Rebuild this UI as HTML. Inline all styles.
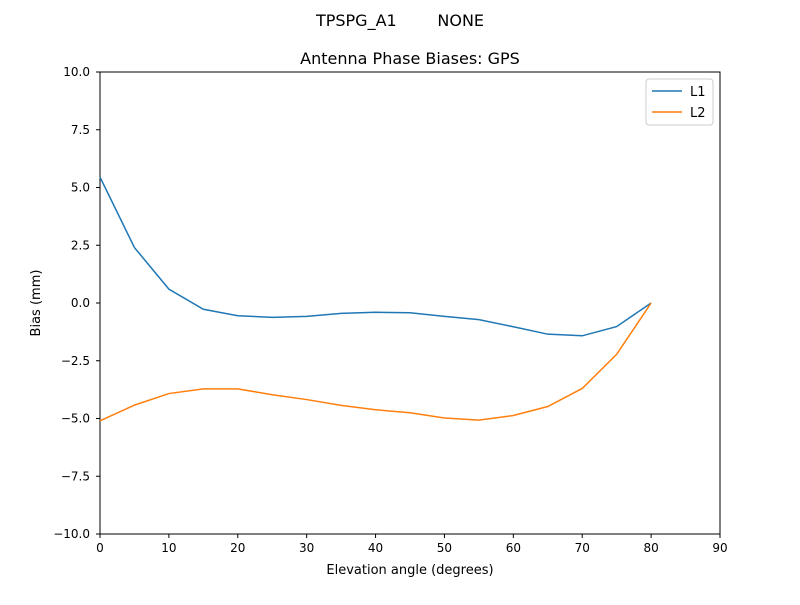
<!DOCTYPE html>
<html><head><meta charset="utf-8"><style>
body{margin:0;background:#fff;font-family:"Liberation Sans","DejaVu Sans",sans-serif;}
svg text{font-family:"DejaVu Sans","Liberation Sans",sans-serif;}
</style></head><body>
<svg id="chart" width="800" height="600">
<text x="400" y="26" font-size="16" text-anchor="middle" xml:space="preserve">TPSPG_A1        NONE</text>
<text x="410" y="64" font-size="16" text-anchor="middle">Antenna Phase Biases: GPS</text>
<g id="axes"></g>
<text x="410" y="574" font-size="13" text-anchor="middle">Elevation angle (degrees)</text>
<text x="40" y="303" font-size="13" text-anchor="middle" transform="rotate(-90 40 303)">Bias (mm)</text>
</svg>
<script>
const elev=[0,5,10,15,20,25,30,35,40,45,50,55,60,65,70,75,80];
const l1=[5.45,2.4,0.6,-0.27,-0.55,-0.62,-0.58,-0.45,-0.4,-0.42,-0.58,-0.72,-1.03,-1.35,-1.42,-1.02,0];
const l2=[-5.1,-4.42,-3.92,-3.72,-3.72,-3.97,-4.18,-4.43,-4.62,-4.75,-4.98,-5.07,-4.87,-4.48,-3.7,-2.22,0];
const xTicks=[0,10,20,30,40,50,60,70,80,90];
const yTicks=[-10,-7.5,-5,-2.5,0,2.5,5,7.5,10];
const yLabels=["−10.0","−7.5","−5.0","−2.5","0.0","2.5","5.0","7.5","10.0"];
const L=100,R=720,T=72,B=534;
const sx=v=>L+(v-0)/90*(R-L), sy=v=>B-(v+10)/20*(B-T);
const NS='http://www.w3.org/2000/svg', g=document.getElementById('axes');
function mk(t,a){const e=document.createElementNS(NS,t);for(const k in a)e.setAttribute(k,a[k]);g.appendChild(e);return e;}
const frame=mk('rect',{x:L,y:T,width:R-L,height:B-T,fill:'none',stroke:'#000','stroke-width':1});


xTicks.forEach(v=>{const x=sx(v);
 const t=mk('line',{x1:x,x2:x,y1:B,y2:B+4,stroke:'#000'});
 
 
 const l=mk('text',{x:x,y:B+18,'font-size':12,'text-anchor':'middle'});l.textContent=v;
 
 });
yTicks.forEach((v,i)=>{const y=sy(v);
 const t=mk('line',{x1:L-4,x2:L,y1:y,y2:y,stroke:'#000'});
 
 
 const l=mk('text',{x:L-10,y:y+4,'font-size':12,'text-anchor':'end'});l.textContent=yLabels[i];
 
 });
function line(d,c,n){const p=mk('polyline',{points:elev.map((e,i)=>sx(e)+','+sy(d[i])).join(' '),fill:'none',stroke:c,'stroke-width':1.5});
 
 }
line(l1,'#1f77b4','l1-line');line(l2,'#ff7f0e','l2-line');
const lg=mk('rect',{x:646,y:79,width:67,height:46,fill:'#fff',stroke:'#ccc',rx:3});


[['L1','#1f77b4',91],['L2','#ff7f0e',112]].forEach(([n,c,y])=>{
 const ln=mk('line',{x1:652,x2:682,y1:y,y2:y,stroke:c,'stroke-width':1.5});
 
 
 const t=mk('text',{x:690,y:y+5,'font-size':13});t.textContent=n;
 
 });
</script>
</body></html>
